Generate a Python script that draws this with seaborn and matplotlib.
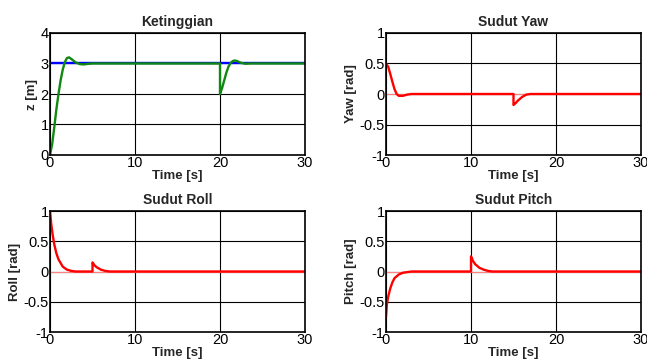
import pandas as pd
import matplotlib
matplotlib.use("Agg")
import matplotlib.pyplot as plt
import seaborn as sns

# Ketinggian (height) response
z_time = [0, 0.25, 0.5, 0.75, 1.0, 1.25, 1.5, 1.75, 2.0, 2.25, 2.5, 3.0, 3.5, 4.0, 4.5, 5.0,
          20.0, 20.0, 20.25, 20.5, 20.75, 21.0, 21.25, 21.5, 21.75, 22.0, 22.5, 23.0, 23.5, 30.0]
z_value = [0, 0.35, 0.9, 1.5, 2.0, 2.45, 2.8, 3.05, 3.18, 3.2, 3.15, 3.04, 2.98, 2.97, 2.99, 3.0,
           3.0, 2.0, 2.2, 2.45, 2.7, 2.9, 3.02, 3.08, 3.1, 3.08, 3.02, 2.99, 3.0, 3.0]
z_ref_time = [0, 30]
z_ref_value = [3, 3]

# Yaw angle
yaw_time = [0, 0.25, 0.5, 0.75, 1.0, 1.25, 1.5, 2.0, 2.5, 3.0,
            15.0, 15.0, 15.25, 15.5, 16.0, 16.5, 17.0, 30.0]
yaw_value = [0.5, 0.45, 0.33, 0.2, 0.08, 0.0, -0.03, -0.03, -0.01, 0,
             0, -0.18, -0.15, -0.11, -0.05, -0.01, 0, 0]

# Roll angle
roll_time = [0, 0.15, 0.3, 0.5, 0.75, 1.0, 1.5, 2.0, 2.5, 3.0, 4.0, 5.0,
             5.0, 5.25, 5.5, 6.0, 6.5, 7.0, 30.0]
roll_value = [1.0, 0.78, 0.62, 0.45, 0.3, 0.2, 0.08, 0.03, 0.01, 0, 0, 0,
              0.15, 0.1, 0.07, 0.03, 0.01, 0, 0]

# Pitch angle
pitch_time = [0, 0.1, 0.25, 0.5, 0.75, 1.0, 1.5, 2.0, 2.5, 3.0,
              10.0, 10.0, 10.25, 10.5, 11.0, 11.5, 12.0, 12.5, 30.0]
pitch_value = [-0.75, -0.55, -0.42, -0.28, -0.18, -0.11, -0.05, -0.02, -0.01, 0,
               0, 0.25, 0.17, 0.12, 0.06, 0.03, 0.01, 0, 0]

angle_ref_time = [0, 30]
angle_ref_value = [0, 0]

sns.set_style("white")
plt.rcParams["font.family"] = ["Liberation Sans", "DejaVu Sans"]
plt.rcParams["xtick.direction"] = "in"
plt.rcParams["ytick.direction"] = "in"

fig = plt.figure(figsize=(6.47, 3.63), dpi=100)
W, H = 647, 363


def make_axes(left, top, right, bottom):
    return fig.add_axes([left / W, 1 - bottom / H, (right - left) / W, (bottom - top) / H])


ax_z = make_axes(50, 33, 305, 155)
ax_yaw = make_axes(386, 33, 641, 155)
ax_roll = make_axes(50, 211, 305, 332)
ax_pitch = make_axes(386, 211, 641, 332)

# Height panel
sns.lineplot(x=z_ref_time, y=z_ref_value, ax=ax_z, color="blue", lw=1.7,
             estimator=None, sort=False)
sns.lineplot(x=z_time, y=z_value, ax=ax_z, color="#118811", lw=1.7,
             estimator=None, sort=False)

panels = [
    (ax_yaw, yaw_time, yaw_value, "Sudut Yaw", "Yaw [rad]"),
    (ax_roll, roll_time, roll_value, "Sudut Roll", "Roll [rad]"),
    (ax_pitch, pitch_time, pitch_value, "Sudut Pitch", "Pitch [rad]"),
]
for ax, t, v, title, ylabel in panels:
    sns.lineplot(x=angle_ref_time, y=angle_ref_value, ax=ax, color="#ff8080", lw=0.8,
                 estimator=None, sort=False)
    sns.lineplot(x=t, y=v, ax=ax, color="red", lw=1.7, estimator=None, sort=False)
    ax.set_ylim(-1, 1)
    ax.set_yticks([-1, -0.5, 0, 0.5, 1])
    ax.set_yticklabels(["-1", "-0.5", "0", "0.5", "1"])
    ax.set_title(title, fontsize=10, fontweight="bold", pad=5)
    ax.set_ylabel(ylabel, fontsize=9.5, fontweight="bold", labelpad=2)

ax_z.set_ylim(0, 4)
ax_z.set_yticks([0, 1, 2, 3, 4])
ax_z.set_title("Ketinggian", fontsize=10, fontweight="bold", pad=5)
ax_z.set_ylabel("z [m]", fontsize=9.5, fontweight="bold", labelpad=2)

for ax in [ax_z, ax_yaw, ax_roll, ax_pitch]:
    ax.set_xlim(0, 30)
    ax.set_xticks([0, 10, 20, 30])
    ax.set_xlabel("Time [s]", fontsize=9.5, fontweight="bold", labelpad=0)
    ax.grid(True, color="black", lw=0.8)
    ax.set_axisbelow(True)
    ax.tick_params(labelsize=10.5, length=3, width=0.8, pad=1, colors="black")
    for sp in ax.spines.values():
        sp.set_color("black")
        sp.set_linewidth(1.2)
    ax.set_facecolor("white")

fig.savefig("out.png", dpi=100, facecolor="white")
